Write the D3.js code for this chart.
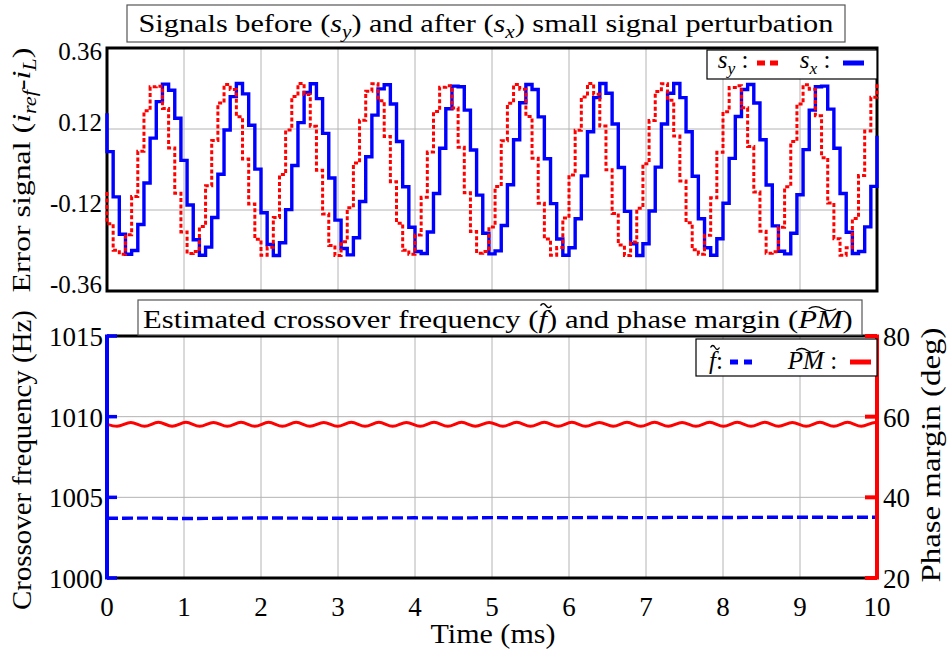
<!DOCTYPE html>
<html>
<head>
<meta charset="utf-8">
<script src="https://cdn.jsdelivr.net/npm/d3@7"></script>
<style>
  body { margin: 0; background: #fff; }
  svg { display: block; }
</style>
</head>
<body>
<div id="chart"></div>
<script>
// ---- data ----
const timeTicks = [0, 1, 2, 3, 4, 5, 6, 7, 8, 9, 10];
const errTicks = [0.36, 0.12, -0.12, -0.36];
const errTickLabels = ['0.36', '0.12', '-0.12', '-0.36'];
const freqTicks = [1000, 1005, 1010, 1015];
const pmTicks = [20, 40, 60, 80];

// held samples, one every 0.08 ms
const sampleStep = 0.08;
const sxStart = 0.167, sxEnd = 0.10;
const sxValues = [
  0.053, -0.081, -0.192, -0.251, -0.240, -0.163, -0.040, 0.093, 0.201, 0.253,
  0.235, 0.152, 0.027, -0.105, -0.208, -0.254, -0.230, -0.142, -0.014, 0.117,
  0.216, 0.255, 0.224, 0.131, 0.001, -0.128, -0.222, -0.255, -0.217, -0.119,
  0.012, 0.139, 0.228, 0.254, 0.210, 0.107, -0.025, -0.150, -0.234, -0.253,
  -0.202, -0.095, 0.038, 0.161, 0.239, 0.251, 0.194, 0.083, -0.051, -0.171,
  -0.243, -0.249, -0.185, -0.071, 0.063, 0.180, 0.247, 0.245, 0.176, 0.058,
  -0.076, -0.189, -0.250, -0.241, -0.166, -0.045, 0.088, 0.198, 0.252, 0.237,
  0.156, 0.032, -0.101, -0.206, -0.254, -0.232, -0.146, -0.019, 0.112, 0.213,
  0.255, 0.226, 0.135, 0.006, -0.124, -0.220, -0.255, -0.220, -0.123, 0.007,
  0.135, 0.226, 0.255, 0.213, 0.112, -0.020, -0.146, -0.232, -0.254, -0.205,
  -0.100, 0.033, 0.157, 0.237, 0.252, 0.197, 0.088, -0.046, -0.167, -0.242,
  -0.250, -0.189, -0.075, 0.059, 0.176, 0.245, 0.247, 0.179, 0.063, -0.071,
  -0.186, -0.249, -0.243, -0.170, -0.050
];
const syStart = -0.067, syEnd = 0.256;
const syValues = [
  -0.161, -0.239, -0.251, -0.193, -0.080, 0.054, 0.174, 0.245, 0.247, 0.181,
  0.064, -0.070, -0.185, -0.249, -0.243, -0.169, -0.048, 0.086, 0.197, 0.252,
  0.237, 0.156, 0.031, -0.102, -0.207, -0.254, -0.230, -0.142, -0.015, 0.117,
  0.216, 0.255, 0.222, 0.128, -0.002, -0.132, -0.225, -0.255, -0.214, -0.113,
  0.019, 0.146, 0.232, 0.254, 0.204, 0.098, -0.036, -0.159, -0.239, -0.251,
  -0.194, -0.082, 0.052, 0.172, 0.244, 0.248, 0.182, 0.066, -0.069, -0.184,
  -0.248, -0.243, -0.170, -0.050, 0.085, 0.196, 0.252, 0.238, 0.157, 0.033,
  -0.100, -0.206, -0.254, -0.231, -0.144, -0.016, 0.116, 0.215, 0.255, 0.223,
  0.129, -0.001, -0.130, -0.224, -0.255, -0.215, -0.115, 0.017, 0.145, 0.231,
  0.254, 0.205, 0.099, -0.034, -0.158, -0.238, -0.251, -0.195, -0.084, 0.051,
  0.171, 0.243, 0.248, 0.183, 0.068, -0.067, -0.183, -0.248, -0.244, -0.171,
  -0.051, 0.083, 0.194, 0.251, 0.238, 0.159, 0.035, -0.099, -0.205, -0.254,
  -0.232, -0.145, -0.018, 0.114, 0.214
];

// crossover frequency estimate, every 0.5 ms
const freqStep = 0.5;
const freqValues = [
  1003.70, 1003.71, 1003.69, 1003.70, 1003.72, 1003.71, 1003.70, 1003.72, 1003.73, 1003.72,
  1003.74, 1003.73, 1003.74, 1003.75, 1003.74, 1003.76, 1003.75, 1003.76, 1003.77, 1003.76, 1003.77
];

// phase margin ripple: start value, then alternating troughs / crests
const pmStart = 58.1, pmEnd = 58.57;
const pmFirstExtreme = 0.13, pmHalfPeriod = 0.179;
const pmExtremes = [
  57.62, 58.58, 57.60, 58.61, 57.63, 58.59, 57.61, 58.58, 57.60, 58.60,
  57.62, 58.59, 57.61, 58.60, 57.63, 58.58, 57.60, 58.59, 57.62, 58.61,
  57.61, 58.58, 57.60, 58.60, 57.62, 58.59, 57.63, 58.58, 57.61, 58.60,
  57.60, 58.61, 57.62, 58.59, 57.61, 58.58, 57.63, 58.60, 57.60, 58.59,
  57.62, 58.58, 57.61, 58.61, 57.60, 58.59, 57.62, 58.60, 57.63, 58.58,
  57.61, 58.60, 57.60, 58.59, 57.62, 58.58
];

// ---- setup ----
const W = 949, H = 651;
const BLUE = '#0000ff', RED = '#ff0000', GRID = '#b4b4b4';

// pick the first serif face that is really installed
function pickSerif() {
  const ctx = document.createElement('canvas').getContext('2d');
  const probe = 'Signals before and after 0123456789 Wmlij';
  const width = f => { ctx.font = `40px ${f}`; return ctx.measureText(probe).width; };
  const mono = width('monospace'), sans = width('sans-serif');
  const names = ['Liberation Serif', 'DejaVu Serif', 'Tinos', 'Noto Serif', 'Times New Roman',
    'Nimbus Roman', 'FreeSerif', 'Latin Modern Roman', 'CMU Serif', 'Times'];
  for (const n of names) {
    if (width(`'${n}', monospace`) !== mono && width(`'${n}', sans-serif`) !== sans) return `'${n}', serif`;
  }
  return 'serif';
}
const FONT = pickSerif();

const svg = d3.select('#chart').append('svg')
  .attr('width', W).attr('height', H)
  .attr('font-family', FONT)
  .style('background', '#fff');

const x = d3.scaleLinear().domain([0, 10]).range([107, 877]);
const yErr = d3.scaleLinear().domain([-0.36, 0.36]).range([291, 48]);
const yFreq = d3.scaleLinear().domain([1000, 1015]).range([578, 336]);
const yPm = d3.scaleLinear().domain([20, 80]).range([578, 336]);

// text with italic / subscript / tilde parts
function richText(parent, parts, size) {
  const g = parent.append('g');
  const t = g.append('text').attr('font-size', size).attr('font-family', FONT).attr('fill', '#000');
  let shift = 0, idx = 0;
  const marks = [];
  parts.forEach(([str, st]) => {
    const dy = st === 'sub' ? size * 0.22 : 0;
    const sp = t.append('tspan').text(str).attr('dy', dy - shift);
    shift = dy;
    if (st !== 'n') sp.attr('font-style', 'italic');
    if (st === 'sub') sp.attr('font-size', size * 0.7);
    if (st === 'ti') marks.push([idx, str.length]);
    idx += str.length;
  });
  // tilde accents drawn as small paths
  marks.forEach(([i, n]) => {
    const a = t.node().getExtentOfChar(i);
    const b = t.node().getExtentOfChar(i + n - 1);
    const cx = (a.x + b.x + b.width) / 2 + size * (n > 1 ? 0.06 : 0.1);
    const w = n > 1 ? size * 0.9 : size * 0.36;
    const y0 = n > 1 ? -size * 0.8 : -size * 0.92;
    g.append('path')
      .attr('d', `M${cx - w / 2},${y0 + 1.5} q${w / 4},${-4} ${w / 2},0 t${w / 2},0`)
      .attr('fill', 'none').attr('stroke', '#000').attr('stroke-width', 1.3);
  });
  return g;
}

// centre a text group on cx, baseline at by, optional width fit and rotation
function place(g, cx, by, width, angle) {
  const bb = g.node().getBBox();
  const s = width ? width / bb.width : 1;
  g.attr('transform',
    `translate(${cx},${by}) rotate(${angle || 0}) scale(${s},1) translate(${-(bb.x + bb.width / 2)},0)`);
}

function grid(g, yScale, yTicks, y0, y1) {
  g.append('g').selectAll('line').data(timeTicks.slice(1, -1)).join('line')
    .attr('x1', d => x(d)).attr('x2', d => x(d))
    .attr('y1', y0).attr('y2', y1)
    .attr('stroke', GRID).attr('stroke-width', 1);
  g.append('g').selectAll('line').data(yTicks).join('line')
    .attr('x1', x(0)).attr('x2', x(10))
    .attr('y1', d => yScale(d)).attr('y2', d => yScale(d))
    .attr('stroke', GRID).attr('stroke-width', 1);
}

// ---- top panel: error signals ----
const errPanel = svg.append('g');
grid(errPanel, yErr, [0.12, -0.12], yErr(0.36), yErr(-0.36));

errPanel.append('rect')
  .attr('x', x(0)).attr('y', yErr(0.36))
  .attr('width', x(10) - x(0)).attr('height', yErr(-0.36) - yErr(0.36))
  .attr('fill', 'none').attr('stroke', '#000').attr('stroke-width', 3);

function stepPoints(start, vals, end) {
  const pts = [[0, start]];
  vals.forEach((v, k) => pts.push([k * sampleStep, v]));
  pts.push([10, vals[vals.length - 1]]);
  pts.push([10, end]);
  return pts;
}
const stepLine = d3.line()
  .x(d => x(d[0])).y(d => yErr(d[1]))
  .curve(d3.curveStepAfter);

errPanel.append('path')
  .datum(stepPoints(sxStart, sxValues, sxEnd))
  .attr('d', stepLine)
  .attr('fill', 'none').attr('stroke', BLUE).attr('stroke-width', 3.4);

errPanel.append('path')
  .datum(stepPoints(syStart, syValues, syEnd))
  .attr('d', stepLine)
  .attr('fill', 'none').attr('stroke', RED).attr('stroke-width', 3)
  .attr('stroke-dasharray', '4,2.4');

// tick labels
errPanel.append('g').selectAll('text').data(errTicks).join('text')
  .attr('x', 102)
  .attr('y', d => Math.min(Math.max(yErr(d) - 7, 51), 292) + 9)
  .attr('text-anchor', 'end').attr('font-size', 25)
  .text((d, i) => errTickLabels[i]);

// legend
const legTop = errPanel.append('g');
legTop.append('rect').attr('x', 707).attr('y', 50).attr('width', 170).attr('height', 29)
  .attr('fill', '#fff').attr('stroke', '#000').attr('stroke-width', 1.2);
place(richText(legTop, [['s', 'i'], ['y', 'sub'], [' :', 'n']], 25), 733, 68);
legTop.append('line').attr('x1', 757).attr('x2', 779).attr('y1', 63).attr('y2', 63)
  .attr('stroke', RED).attr('stroke-width', 5).attr('stroke-dasharray', '8,5');
place(richText(legTop, [['s', 'i'], ['x', 'sub'], [' :', 'n']], 25), 815, 68);
legTop.append('line').attr('x1', 843).attr('x2', 864).attr('y1', 63).attr('y2', 63)
  .attr('stroke', BLUE).attr('stroke-width', 5);

// title
errPanel.append('rect').attr('x', 127).attr('y', 5).attr('width', 718).attr('height', 37)
  .attr('fill', '#fff').attr('stroke', '#555').attr('stroke-width', 1.2);
place(richText(errPanel, [
  ['Signals before (', 'n'], ['s', 'i'], ['y', 'sub'], [') and after (', 'n'],
  ['s', 'i'], ['x', 'sub'], [') small signal perturbation', 'n']
], 26), 486, 32, 695);

// y label
place(richText(errPanel, [
  ['Error signal (', 'n'], ['i', 'i'], ['ref', 'sub'], ['-', 'n'], ['i', 'i'], ['L', 'sub'], [')', 'n']
], 26), 30, 170, 245, -90);

// ---- bottom panel: crossover frequency and phase margin ----
const estPanel = svg.append('g');
grid(estPanel, yFreq, [1005, 1010], yFreq(1015), yFreq(1000));

const pmPoints = [[0, pmStart]];
pmExtremes.forEach((v, k) => pmPoints.push([pmFirstExtreme + k * pmHalfPeriod, v]));
pmPoints.push([10, pmEnd]);

estPanel.append('path')
  .datum(pmPoints)
  .attr('d', d3.line().x(d => x(d[0])).y(d => yPm(d[1])).curve(d3.curveMonotoneX))
  .attr('fill', 'none').attr('stroke', RED).attr('stroke-width', 3);

estPanel.append('path')
  .datum(freqValues.map((v, k) => [k * freqStep, v]))
  .attr('d', d3.line().x(d => x(d[0])).y(d => yFreq(d[1])).curve(d3.curveMonotoneX))
  .attr('fill', 'none').attr('stroke', BLUE).attr('stroke-width', 3.4)
  .attr('stroke-dasharray', '11,4');

// frame: black top/bottom, blue left, red right
estPanel.append('line').attr('x1', x(0)).attr('x2', x(10)).attr('y1', yFreq(1015)).attr('y2', yFreq(1015))
  .attr('stroke', '#000').attr('stroke-width', 3);
estPanel.append('line').attr('x1', x(0)).attr('x2', x(10)).attr('y1', yFreq(1000)).attr('y2', yFreq(1000))
  .attr('stroke', '#000').attr('stroke-width', 3);
estPanel.append('line').attr('x1', x(0)).attr('x2', x(0)).attr('y1', yFreq(1015) - 1.5).attr('y2', yFreq(1000) + 1.5)
  .attr('stroke', BLUE).attr('stroke-width', 4);
estPanel.append('line').attr('x1', x(10)).attr('x2', x(10)).attr('y1', yPm(80) - 1.5).attr('y2', yPm(20) + 1.5)
  .attr('stroke', RED).attr('stroke-width', 4);

estPanel.append('g').selectAll('line').data(freqTicks).join('line')
  .attr('x1', x(0)).attr('x2', x(0) + 10)
  .attr('y1', d => yFreq(d)).attr('y2', d => yFreq(d))
  .attr('stroke', BLUE).attr('stroke-width', 3.5);
estPanel.append('g').selectAll('line').data(pmTicks).join('line')
  .attr('x1', x(10) - 12).attr('x2', x(10))
  .attr('y1', d => yPm(d)).attr('y2', d => yPm(d))
  .attr('stroke', RED).attr('stroke-width', 4);

// tick labels
estPanel.append('g').selectAll('text').data(freqTicks).join('text')
  .attr('x', 103).attr('y', d => yFreq(d) + 10)
  .attr('text-anchor', 'end').attr('font-size', 27)
  .text(d => d);
estPanel.append('g').selectAll('text').data(pmTicks).join('text')
  .attr('x', 883).attr('y', d => yPm(d) + 10)
  .attr('text-anchor', 'start').attr('font-size', 27)
  .text(d => d);
estPanel.append('g').selectAll('text').data(timeTicks).join('text')
  .attr('x', d => x(d)).attr('y', 616)
  .attr('text-anchor', 'middle').attr('font-size', 27)
  .text(d => d);

// legend
const legBot = estPanel.append('g');
legBot.append('rect').attr('x', 696).attr('y', 339).attr('width', 181).attr('height', 37)
  .attr('fill', '#fff').attr('stroke', '#000').attr('stroke-width', 1.2);
place(richText(legBot, [['f', 'ti'], [':', 'n']], 25), 716, 369);
legBot.append('line').attr('x1', 730).attr('x2', 753).attr('y1', 362).attr('y2', 362)
  .attr('stroke', BLUE).attr('stroke-width', 5).attr('stroke-dasharray', '8,6');
place(richText(legBot, [['PM', 'ti'], [' :', 'n']], 25), 812, 369);
legBot.append('line').attr('x1', 850).attr('x2', 871).attr('y1', 362).attr('y2', 362)
  .attr('stroke', RED).attr('stroke-width', 5);

// title
estPanel.append('rect').attr('x', 138).attr('y', 300).attr('width', 724).attr('height', 35)
  .attr('fill', '#fff').attr('stroke', '#555').attr('stroke-width', 1.2);
place(richText(estPanel, [
  ['Estimated crossover frequency (', 'n'], ['f', 'ti'], [') and phase margin (', 'n'],
  ['PM', 'ti'], [')', 'n']
], 26), 498, 328, 710);

// axis labels
place(richText(estPanel, [['Crossover frequency (Hz)', 'n']], 27), 31, 460, 300, -90);
place(richText(estPanel, [['Phase margin (deg)', 'n']], 27), 940, 455, 255, -90);
place(richText(estPanel, [['Time (ms)', 'n']], 27), 493, 643, 125);
</script>
</body>
</html>
